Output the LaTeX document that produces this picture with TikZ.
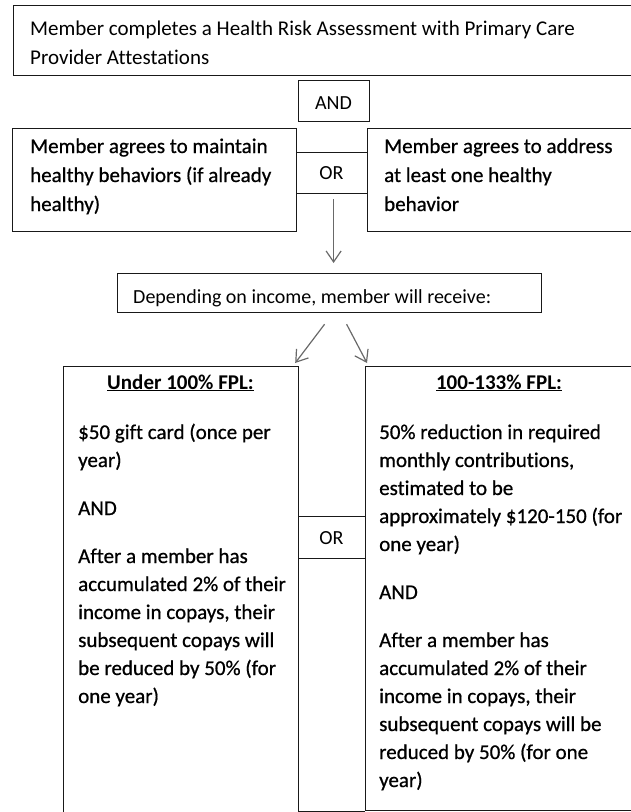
\documentclass[tikz,border=0pt]{standalone}
\usepackage{fontspec}
\setmainfont{Carlito}[Ligatures=NoCommon]
\newfontfamily\heavy{Carlito}[Ligatures=NoCommon,FakeBold=0.7]
\usetikzlibrary{arrows.meta}
\newcommand\natsp{\spaceskip=0pt\xspaceskip=0pt\relax}
\begin{document}
\begin{tikzpicture}[x=1pt,y=-1pt,
  box/.style={draw=black!90, line width=1.2pt, rectangle, inner sep=0pt, anchor=north west},
  boxline/.style={draw=black!90, line width=1.2pt},
  txt/.style={inner sep=0pt, anchor=base west, align=left, text width=#1,
              font=\heavy\fontsize{21}{28}\selectfont},
  txtb/.style={inner sep=0pt, anchor=base west, align=left, text width=#1,
              font=\fontsize{21}{29}\selectfont},
  txth/.style={inner sep=0pt, anchor=base west, align=left, text width=#1,
              font=\heavy\fontsize{21}{29}\selectfont},
  lbl/.style={inner sep=0pt, anchor=base, font=\fontsize{20}{24}\selectfont},
  head/.style={inner sep=0pt, anchor=base, font=\bfseries\fontsize{21}{28}\selectfont},
  arr/.style={draw={rgb,255:red,105;green,105;blue,105}, line width=1.2pt,
              -{Straight Barb[length=11pt,width=15pt,line width=1.2pt]}}
]
\useasboundingbox (0,0) rectangle (631,812);
\clip (0,0) rectangle (631,812);
% boxes
\node[box, minimum width=640, minimum height=70] (top) at (13,5) {};
\node[box, minimum width=71, minimum height=41] (and) at (298,80) {};
\node[box, minimum width=284, minimum height=103] (lb) at (12,128) {};
\node[box, minimum width=290, minimum height=103] (rb) at (367,128) {};
\node[box, minimum width=71, minimum height=41] (or1) at (296,152) {};
\node[box, minimum width=424, minimum height=39] (dep) at (117,273) {};
\node[box, minimum width=235, minimum height=500] (bl) at (63,366) {};
\node[box, minimum width=290, minimum height=444] (br) at (365,366) {};
\node[box, minimum width=67, minimum height=42] (or2) at (298,516) {};
\draw[boxline] (bl.north east |- br.south) -- (br.south west);
% texts
\node[txtb=600pt] (t1) at (30,35) {\natsp Member completes a Health Risk Assessment with Primary Care\\Provider Attestations};
\node[lbl] (andt) at (333.5,109) {AND};
\node[txth=270pt] (lbt) at (30,153) {\natsp Member agrees to maintain\\healthy behaviors (if already\\healthy)};
\node[txth=270pt] (rbt) at (384,153) {\natsp Member agrees to address\\at least one healthy\\behavior};
\node[lbl] (or1t) at (331.5,179) {OR};
\node[inner sep=0pt, anchor=base west, font=\fontsize{20}{24}\selectfont] (dept) at (133,303) {Depending on income, member will receive:};
\node[head] (blh) at (180.5,389) {\underline{Under 100\% FPL:}};
\node[head] (brh) at (499,389) {\underline{100-133\% FPL:}};
\node[txt=260pt] (blt) at (78,439) {\natsp \$50 gift card (once per\\year)\\[20pt]AND\\[20pt]After a member has\\accumulated 2\% of their\\income in copays, their\\subsequent copays will\\be reduced by 50\% (for\\one year)};
\node[txt=260pt] (brt) at (379,439) {\natsp 50\% reduction in required\\monthly contributions,\\estimated to be\\approximately \$120-150 (for\\one year)\\[20pt]AND\\[20pt]After a member has\\accumulated 2\% of their\\income in copays, their\\subsequent copays will be\\reduced by 50\% (for one\\year)};
\node[lbl] (or2t) at (331.5,544) {OR};
% arrows
\draw[arr] ([xshift=1.5pt,yshift=-5pt]or1.south) -- ([xshift=1.5pt,yshift=10pt]or1.south |- dep.north);
\draw[arr] ([xshift=-5pt,yshift=-11pt]dep.south) -- ([xshift=-4pt,yshift=3pt]bl.north east);
\draw[arr] ([xshift=17pt,yshift=-11pt]dep.south) -- ([xshift=2pt,yshift=3pt]br.north west);
\end{tikzpicture}
\end{document}
